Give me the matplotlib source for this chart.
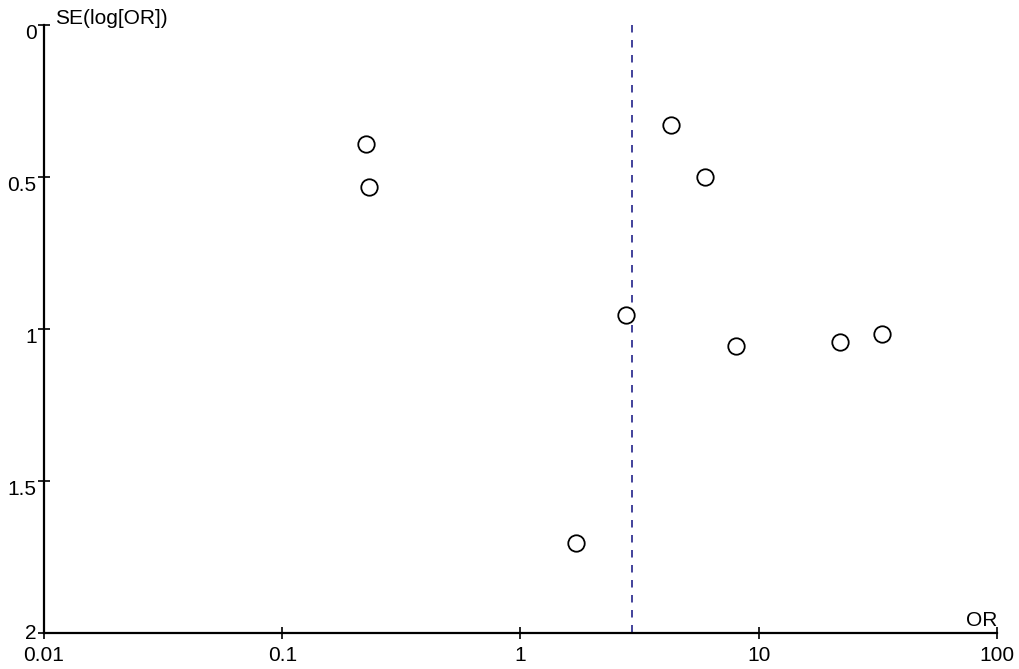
import matplotlib.pyplot as plt
import matplotlib.transforms as mtransforms

plt.rcParams["font.family"] = ["Liberation Sans", "DejaVu Sans"]

# study estimates
odds_ratio = [0.224, 0.231, 4.28, 5.94, 2.77, 8.0, 21.9, 32.9, 1.71]
se_log_or = [0.391, 0.533, 0.329, 0.500, 0.954, 1.056, 1.043, 1.016, 1.704]
pooled_or = 2.93

x_ticks = [0.01, 0.1, 1, 10, 100]
x_tick_labels = ["0.01", "0.1", "1", "10", "100"]
y_ticks = [0, 0.5, 1, 1.5, 2]
y_tick_labels = ["0", "0.5", "1", "1.5", "2"]

fig = plt.figure(figsize=(10.2, 6.69), dpi=100)
ax = fig.add_axes([0.0431, 0.0538, 0.9343, 0.9088])

ax.plot(
    [pooled_or, pooled_or],
    [0, 2],
    color="#22228a",
    linewidth=1.2,
    linestyle=(0, (4.5, 4.5)),
)

ax.scatter(
    odds_ratio,
    se_log_or,
    s=140,
    facecolors="white",
    edgecolors="black",
    linewidths=1.3,
    zorder=3,
)

ax.set_xscale("log")
ax.set_xlim(0.01, 100)
ax.set_ylim(2, 0)

ax.set_xticks(x_ticks)
ax.set_xticklabels(x_tick_labels)
ax.set_yticks(y_ticks)
ax.set_yticklabels(y_tick_labels)
ax.minorticks_off()

ax.spines["top"].set_visible(False)
ax.spines["right"].set_visible(False)
for side in ["left", "bottom"]:
    ax.spines[side].set_linewidth(1.6)

ax.tick_params(
    direction="inout",
    length=8.5,
    width=1.2,
    labelsize=15,
)
ax.tick_params(axis="x", pad=5)
ax.tick_params(axis="y", pad=1)

# y tick labels sit a little below their ticks in the original
for label in ax.get_yticklabels():
    shift = 1 if label.get_text() == "2" else -4.5
    offset = mtransforms.ScaledTranslation(0, shift / 72, fig.dpi_scale_trans)
    label.set_transform(label.get_transform() + offset)

ax.annotate(
    "SE(log[OR])",
    xy=(0.0, 1.0),
    xycoords="axes fraction",
    xytext=(8, -2),
    textcoords="offset points",
    fontsize=15,
    ha="left",
    va="bottom",
)
ax.annotate(
    "OR",
    xy=(1.0, 0.0),
    xycoords="axes fraction",
    xytext=(0, 2),
    textcoords="offset points",
    fontsize=15,
    ha="right",
    va="bottom",
)

fig.savefig("out.png", dpi=100)
plt.close(fig)
